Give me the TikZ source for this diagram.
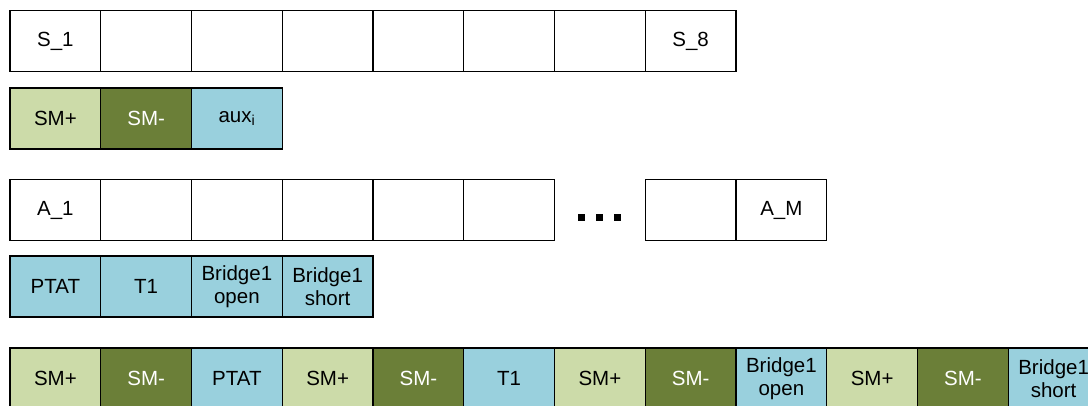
\documentclass[tikz,border=0pt]{standalone}
\usepackage{fontspec}
\setmainfont{Liberation Sans}
\definecolor{smplus}{HTML}{CCDBA9}
\definecolor{smminus}{HTML}{6B7F38}
\definecolor{auxblue}{HTML}{99D0DD}
\begin{document}
\begin{tikzpicture}[x=1pt,y=-1pt,
  cell/.style={draw=black,line width=1.1pt,minimum width=90.75pt,minimum height=61pt,
    inner sep=0pt,outer sep=0pt,anchor=center,align=center,
    font=\fontsize{20.5}{23.3}\selectfont},
  plain/.style={cell,fill=white},
  smp/.style={cell,fill=smplus,text=black},
  smm/.style={cell,fill=smminus,text=white},
  aux/.style={cell,fill=auxblue,text=black},
  dot/.style={fill=black,minimum size=7pt,inner sep=0pt,outer sep=0pt}]
\useasboundingbox (0,0) rectangle (1088,406);
\clip (0,0) rectangle (1088,406);
% row 1: S_1 ... S_8
\foreach \i/\t in {0/S\_1,1/,2/,3/,4/,5/,6/,7/S\_8}
  \node[plain] (s\i) at ({10+90.75*\i+45.375},41) {\t};
% row 2
\node[smp] (r2a) at ({10+45.375},118.5) {SM+};
\node[smm] (r2b) at ({10+90.75+45.375},118.5) {SM-};
\node[aux] (r2c) at ({10+2*90.75+45.375},118.5) {aux\textsubscript{i}};
% row 3: A_1 ... A_M
\foreach \i/\t in {0/A\_1,1/,2/,3/,4/,5/,7/,8/A\_M}
  \node[plain] (a\i) at ({10+90.75*\i+45.375},210) {\t};
\node[dot] (d1) at (581,217.5) {};
\node[dot] (d2) at (599.5,217.5) {};
\node[dot] (d3) at (617.5,217.5) {};
% row 4
\node[aux] (r4a) at ({10+45.375},286.5) {PTAT};
\node[aux] (r4b) at ({10+90.75+45.375},286.5) {T1};
\node[aux] (r4c) at ({10+2*90.75+45.375},286.5) {Bridge1\\open};
\node[aux] (r4d) at ({10+3*90.75+45.375},286.5) {Bridge1\\short};
% row 5
\foreach \i/\s/\t in {0/smp/SM+,1/smm/SM-,2/aux/PTAT,3/smp/SM+,4/smm/SM-,5/aux/T1,
  6/smp/SM+,7/smm/SM-,8/aux/Bridge1\\open,9/smp/SM+,10/smm/SM-,11/aux/Bridge1\\short}
  \node[\s] (b\i) at ({10+90.75*\i+45.375},378.5) {\t};
\end{tikzpicture}
\end{document}
